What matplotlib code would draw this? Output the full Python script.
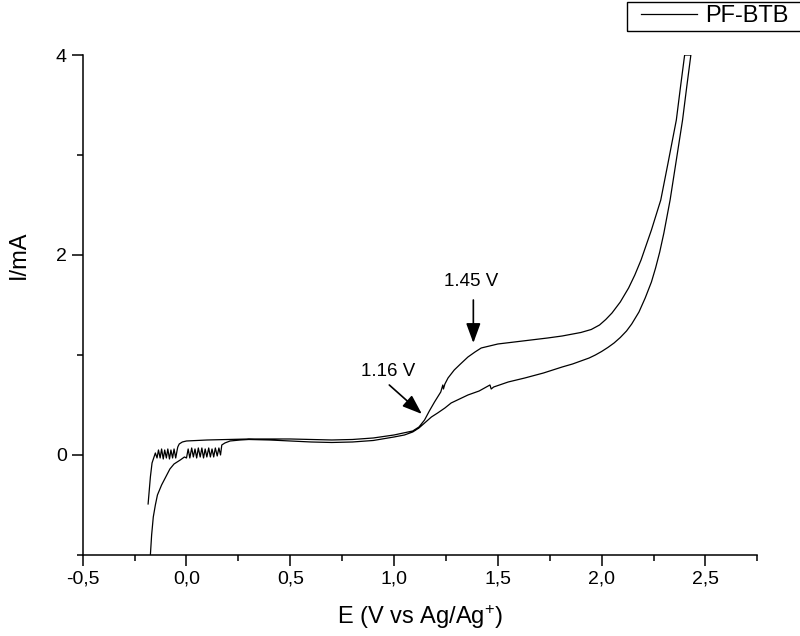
# PF-BTB cyclic voltammogram

import numpy as np
from matplotlib import pyplot as plt
from matplotlib.ticker import MultipleLocator
from matplotlib.lines import Line2D
from matplotlib.legend_handler import HandlerLine2D
from matplotlib.patches import Rectangle

plt.rcParams['font.family'] = ['Liberation Sans', 'DejaVu Sans']
plt.rcParams['mathtext.default'] = 'regular'

# forward scan (starts at the bottom left, ends on the lower branch at the top)
E_fwd = [-0.174, -0.168, -0.160, -0.150, -0.140, -0.120, -0.100, -0.080,
         -0.060, -0.030, -0.010,
         0.000, 0.008, 0.016, 0.025, 0.033, 0.041, 0.049, 0.057, 0.066,
         0.074, 0.082, 0.090, 0.098, 0.107, 0.115, 0.123, 0.131, 0.139,
         0.148, 0.156, 0.164,
         0.170, 0.185, 0.210, 0.260, 0.300, 0.400, 0.500, 0.600, 0.700,
         0.800, 0.900, 1.000, 1.050, 1.090, 1.120, 1.147, 1.180, 1.210,
         1.245, 1.275, 1.315, 1.356, 1.410, 1.462, 1.468, 1.480, 1.550,
         1.630, 1.720, 1.810, 1.860, 1.900, 1.940, 1.970, 2.000, 2.030,
         2.060, 2.090, 2.120, 2.145, 2.180, 2.210, 2.240, 2.260, 2.280,
         2.300, 2.330, 2.360, 2.390, 2.410, 2.430]
I_fwd = [-1.00, -0.80, -0.62, -0.50, -0.40, -0.30, -0.22, -0.14,
         -0.09, -0.05, -0.02,
         -0.03, 0.06, -0.03, 0.07, -0.02, 0.06, -0.03, 0.07, -0.02,
         0.07, -0.03, 0.06, -0.02, 0.07, -0.02, 0.06, -0.02, 0.07,
         -0.01, 0.07, 0.00,
         0.10, 0.12, 0.14, 0.15, 0.155, 0.15, 0.14, 0.13, 0.125,
         0.13, 0.145, 0.18, 0.20, 0.23, 0.27, 0.32, 0.38, 0.42,
         0.47, 0.52, 0.56, 0.60, 0.64, 0.70, 0.66, 0.68, 0.73,
         0.77, 0.82, 0.88, 0.91, 0.94, 0.97, 1.00, 1.035, 1.075,
         1.12, 1.175, 1.24, 1.31, 1.43, 1.57, 1.73, 1.87, 2.03,
         2.22, 2.55, 2.95, 3.35, 3.68, 4.00]

# reverse scan (starts at the top, upper branch, ends at -0.5 mA)
E_rev = [2.400, 2.380, 2.360, 2.320, 2.285, 2.240, 2.190, 2.160, 2.130,
         2.090, 2.050, 2.020, 1.990, 1.950, 1.900, 1.810, 1.740, 1.660,
         1.580, 1.500, 1.460, 1.420, 1.390, 1.356, 1.320, 1.290, 1.260,
         1.245, 1.238, 1.235, 1.225, 1.195, 1.170, 1.147, 1.120, 1.090,
         1.000, 0.900, 0.800, 0.700, 0.600, 0.500, 0.400, 0.300, 0.200,
         0.100, 0.050, 0.000, -0.020, -0.035, -0.042,
         -0.045, -0.052, -0.060, -0.067, -0.075, -0.082, -0.090, -0.097,
         -0.105, -0.112, -0.120, -0.127, -0.135, -0.142, -0.150,
         -0.166, -0.174, -0.178, -0.182, -0.185]
I_rev = [4.00, 3.68, 3.35, 2.92, 2.55, 2.25, 1.95, 1.80, 1.67,
         1.53, 1.42, 1.355, 1.30, 1.255, 1.225, 1.19, 1.17, 1.15,
         1.13, 1.11, 1.09, 1.07, 1.03, 0.98, 0.91, 0.85, 0.77,
         0.71, 0.66, 0.70, 0.63, 0.53, 0.44, 0.35, 0.28, 0.24,
         0.20, 0.17, 0.155, 0.15, 0.155, 0.16, 0.16, 0.16, 0.155,
         0.15, 0.145, 0.14, 0.13, 0.11, 0.08,
         0.05, -0.03, 0.06, -0.03, 0.05, -0.04, 0.06, -0.03,
         0.05, -0.04, 0.06, -0.03, 0.05, -0.03, 0.02,
         -0.08, -0.22, -0.32, -0.42, -0.49]

E = np.array(E_fwd + E_rev)
I = np.array(I_fwd + I_rev)

xticks = [-0.5, 0.0, 0.5, 1.0, 1.5, 2.0, 2.5]
xticklabels = ['-0,5', '0,0', '0,5', '1,0', '1,5', '2,0', '2,5']
yticks = [0, 2, 4]
yticklabels = ['0', '2', '4']

fig = plt.figure(figsize=(8, 6.36), dpi=100)
ax = fig.add_axes([0.1034, 0.1274, 0.8432, 0.7861])

ax.plot(E, I, color='black', linewidth=0.9, label='PF-BTB')

arrow = dict(arrowstyle='-|>,head_length=0.6,head_width=0.22',
             color='black', lw=1.2, mutation_scale=20, shrinkA=0, shrinkB=0)
ax.annotate('', xy=(1.382, 1.12), xytext=(1.382, 1.55), arrowprops=arrow)
ax.text(1.372, 1.73, '1.45 V', ha='center', va='center', fontsize=13.5)
ax.annotate('', xy=(1.134, 0.41), xytext=(0.977, 0.70), arrowprops=arrow)
ax.text(0.97, 0.835, '1.16 V', ha='center', va='center', fontsize=13.5)

ax.set_xlim(-0.5, 2.75)
ax.set_ylim(-1, 4)
ax.set_xticks(xticks)
ax.set_xticklabels(xticklabels)
ax.set_yticks(yticks)
ax.set_yticklabels(yticklabels)
ax.xaxis.set_minor_locator(MultipleLocator(0.25))
ax.yaxis.set_minor_locator(MultipleLocator(1))
ax.tick_params(which='major', direction='out', length=8, width=1.1,
               labelsize=14)
ax.tick_params(which='minor', direction='out', length=4.5, width=1.1)
ax.spines['top'].set_visible(False)
ax.spines['right'].set_visible(False)
ax.spines['left'].set_linewidth(1.1)
ax.spines['bottom'].set_linewidth(1.1)

ax.set_xlabel(r'E (V vs Ag/Ag$^{+}$)', fontsize=17, labelpad=11)
ax.set_ylabel('I/mA', fontsize=17)
ax.yaxis.set_label_coords(-0.078, 0.6)

# legend sits in the top right corner, its box runs off the right edge
leg = ax.legend(loc='upper left', bbox_to_anchor=(626.7 / 800, 1 - 1.7 / 636),
                bbox_transform=fig.transFigure, borderaxespad=0,
                fontsize=17, frameon=False, borderpad=0.15,
                handlelength=2.82, handletextpad=0.35,
                handler_map={Line2D: HandlerLine2D(xpad=0.47)})
fig.canvas.draw()
bb = leg.get_window_extent().transformed(fig.transFigure.inverted())
fig.add_artist(Rectangle((bb.x0, bb.y0), 1.05 - bb.x0, bb.height,
                         transform=fig.transFigure, fill=False,
                         edgecolor='black', linewidth=1.0, clip_on=False))

plt.savefig('out.png', dpi=100)
plt.close()
